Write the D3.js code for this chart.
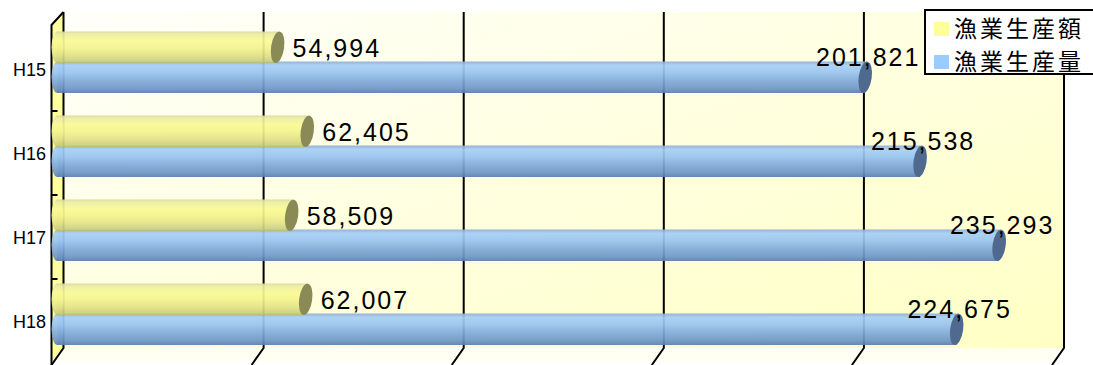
<!DOCTYPE html>
<meta charset="utf-8">
<script src="https://d3js.org/d3.v7.min.js"></script>
<style>
  body { margin: 0; background: #fff; }
  svg { display: block; }
</style>
<body>
<svg id="chart"></svg>
</body>
<script>
// data
var categories = ["H15", "H16", "H17", "H18"];
var seriesNames = ["漁業生産額", "漁業生産量"];
var valueAmount = [54994, 62405, 58509, 62007];     // 漁業生産額
var valueVolume = [201821, 215538, 235293, 224675]; // 漁業生産量

var width = 1093, height = 365;
var depth = {x: -12, y: 13};   // 3d offset back wall -> front

var svg = d3.select("#chart").attr("width", width).attr("height", height);

// scales on the back wall
var x = d3.scaleLinear().domain([0, 250000]).range([63.5, 1064]);
var y = d3.scaleBand().domain(categories).range([12, 348]);

var wallTop = y.range()[0], wallBottom = y.range()[1];
var x0 = x(0), x1 = x(250000);

var defs = svg.append("defs");

var wallGrad = defs.append("linearGradient").attr("id", "wall")
    .attr("x1", 0).attr("y1", 0).attr("x2", 1).attr("y2", 1);
wallGrad.append("stop").attr("offset", 0).attr("stop-color", "#fffffa");
wallGrad.append("stop").attr("offset", 1).attr("stop-color", "#ffffc4");

function barGrad(id, stops) {
  var g = defs.append("linearGradient").attr("id", id)
      .attr("x1", 0).attr("y1", 0).attr("x2", 0).attr("y2", 1);
  stops.forEach(function(s) {
    g.append("stop").attr("offset", s[0]).attr("stop-color", s[1]);
  });
}
barGrad("gYellow", [[0, "#d8d89a"], [0.08, "#ececa4"], [0.3, "#fafa94"], [0.5, "#f4f48e"],
                    [0.75, "#e2e286"], [0.95, "#cccc7c"], [1, "#b8b874"]]);
barGrad("gBlue", [[0, "#8cacd4"], [0.12, "#a6cef6"], [0.35, "#98c4f0"], [0.6, "#82aadb"],
                  [0.85, "#6e96c6"], [1, "#5a7eae"]]);

// back wall
svg.append("rect")
    .attr("x", x0).attr("y", wallTop)
    .attr("width", x1 - x0).attr("height", wallBottom - wallTop)
    .attr("fill", "url(#wall)");

// floor
svg.append("path")
    .attr("d", "M" + x0 + "," + wallBottom + "L" + x1 + "," + wallBottom +
               "L" + (x1 + depth.x) + "," + (wallBottom + depth.y) +
               "L" + (x0 + depth.x) + "," + (wallBottom + depth.y) + "Z")
    .attr("fill", "#fffff2");

// left wall
svg.append("path")
    .attr("d", "M" + x0 + "," + wallTop + "L" + x0 + "," + wallBottom +
               "L" + (x0 + depth.x) + "," + (wallBottom + depth.y) +
               "L" + (x0 + depth.x) + "," + (wallTop + depth.y) + "Z")
    .attr("fill", "#ffffa0");

// gridlines on the wall and floor
x.ticks(5).forEach(function(t) {
  var gx = x(t);
  svg.append("path")
      .attr("d", "M" + gx + "," + wallTop + "L" + gx + "," + wallBottom +
                 "L" + (gx + depth.x) + "," + (wallBottom + depth.y + 4))
      .attr("fill", "none")
      .attr("stroke", "#000")
      .attr("stroke-width", 2);
});

// left axis (front)
var ax = x0 + depth.x;
svg.append("path")
    .attr("d", "M" + x0 + "," + wallTop + "L" + ax + "," + (wallTop + depth.y) +
               "L" + ax + "," + height)
    .attr("fill", "none")
    .attr("stroke", "#000")
    .attr("stroke-width", 2);

categories.slice(1).forEach(function(c) {
  var ty = y(c) + depth.y + 2;
  svg.append("line")
      .attr("x1", ax).attr("x2", ax + 6)
      .attr("y1", ty).attr("y2", ty)
      .attr("stroke", "#000").attr("stroke-width", 2);
});

// category labels
svg.selectAll(".cat")
    .data(categories)
  .enter().append("text")
    .attr("class", "cat")
    .attr("x", 46)
    .attr("y", function(d) { return y(d) + 58; })
    .attr("dy", "0.35em")
    .style("text-anchor", "end")
    .style("font-family", "'Liberation Sans', Arial, sans-serif")
    .style("font-size", "18px")
    .text(function(d) { return d; });

// bars at mid depth
var mx = depth.x / 2, my = depth.y / 2;
var barH = 31.5;
var rows = categories.map(function(c, i) {
  return {cat: c, amount: valueAmount[i], volume: valueVolume[i]};
});

function cylinder(g, value, yTop, grad, capColor) {
  var xs = x(0) + mx, xe = x(value) + mx, cy = yTop + barH / 2;
  g.append("ellipse")
      .attr("cx", xs).attr("cy", cy)
      .attr("rx", 6).attr("ry", barH / 2)
      .attr("fill", "url(#" + grad + ")")
      .attr("opacity", 0.92);
  g.append("rect")
      .attr("x", xs).attr("y", yTop)
      .attr("width", xe - xs).attr("height", barH)
      .attr("fill", "url(#" + grad + ")")
      .attr("opacity", 0.92);
  g.append("ellipse")
      .attr("transform", "translate(" + xe + "," + cy + ") rotate(8)")
      .attr("rx", 6.5).attr("ry", barH / 2)
      .attr("fill", capColor);
}

var fmt = d3.format(",");
var labelFont = "'Liberation Sans', Arial, sans-serif";

rows.forEach(function(d) {
  var g = svg.append("g");
  var yTopY = y(d.cat) + my + 13;
  var yTopB = y(d.cat) + my + 43;
  cylinder(g, d.volume, yTopB, "gBlue", "#4f6a8e");
  cylinder(g, d.amount, yTopY, "gYellow", "#8a8a56");
});

rows.forEach(function(d) {
  var yTopY = y(d.cat) + my + 13;
  var yTopB = y(d.cat) + my + 43;
  svg.append("text")
      .attr("x", x(d.amount) + mx + 15)
      .attr("y", yTopY + 25)
      .style("font-family", labelFont)
      .style("font-size", "25px")
      .style("letter-spacing", "2px")
      .text(fmt(d.amount));
  svg.append("text")
      .attr("x", x(d.volume) + mx + 3)
      .attr("y", yTopB + 4)
      .style("text-anchor", "middle")
      .style("font-family", labelFont)
      .style("font-size", "25px")
      .style("letter-spacing", "2px")
      .text(fmt(d.volume));
});

// legend
var legend = svg.append("g");
legend.append("rect")
    .attr("x", 925).attr("y", 10)
    .attr("width", 190).attr("height", 64)
    .attr("fill", "#fff")
    .attr("stroke", "#000")
    .attr("stroke-width", 2);

var legendColors = ["#ffff99", "#99ccff"];
seriesNames.forEach(function(name, i) {
  var ly = 29 + i * 33;
  legend.append("rect")
      .attr("x", 934).attr("y", ly - 7)
      .attr("width", 15).attr("height", 14)
      .attr("fill", legendColors[i]);
  legend.append("text")
      .attr("x", 954).attr("y", ly)
      .attr("dy", "0.36em")
      .style("font-family", "'Noto Sans CJK JP', sans-serif")
      .style("font-size", "23px")
      .style("letter-spacing", "3px")
      .text(name);
});
</script>
